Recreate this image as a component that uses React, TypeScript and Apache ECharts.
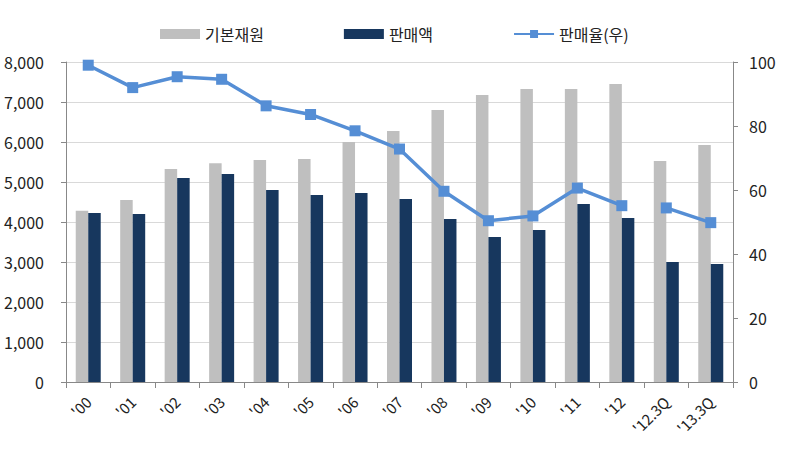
import React, { useEffect, useRef } from "react";
import * as echarts from "echarts";

const categories = ["'00", "'01", "'02", "'03", "'04", "'05", "'06", "'07", "'08", "'09", "'10", "'11", "'12", "'12.3Q", "'13.3Q"];
const baseFunds = [4280, 4550, 5325, 5470, 5550, 5575, 6000, 6275, 6800, 7175, 7325, 7325, 7450, 5525, 5925];
const sales = [4225, 4200, 5100, 5200, 4800, 4675, 4725, 4575, 4075, 3625, 3800, 4450, 4100, 3000, 2950];
const salesRateAnnual = [99, 92, 95.4, 94.6, 86.3, 83.6, 78.5, 72.8, 59.6, 50.4, 51.9, 60.6, 55.1];
const salesRateQuarter = [54.4, 49.8];
const leftTicks = { min: 0, max: 8000, interval: 1000 };
const rightTicks = { min: 0, max: 100, interval: 20 };

const FONT = "'Noto Sans CJK KR', 'Noto Sans', sans-serif";

export default function App() {
  const ref = useRef<HTMLDivElement>(null);
  useEffect(() => {
    if (!ref.current) return;
    const chart = echarts.init(ref.current, null, { renderer: "svg" });
    const n = categories.length;
    const lineA = categories.map((_, i) => (i < salesRateAnnual.length ? salesRateAnnual[i] : "-"));
    const lineB = categories.map((_, i) => {
      const j = i - (n - salesRateQuarter.length);
      return j >= 0 ? salesRateQuarter[j] : "-";
    });
    chart.setOption({
      animation: false,
      textStyle: { fontFamily: FONT },
      legend: {
        left: 155,
        top: 21,
        itemWidth: 40,
        itemHeight: 10,
        itemGap: 80,
        textStyle: { fontFamily: FONT, fontSize: 16, color: "#222" },
        data: [
          { name: "기본재원", icon: "rect" },
          { name: "판매액", icon: "rect" },
          { name: "판매율(우)" },
        ],
      },
      grid: { left: 66, right: 54, top: 62, bottom: 68, containLabel: false },
      xAxis: {
        type: "category",
        data: categories,
        axisLine: { lineStyle: { color: "#888" } },
        axisTick: { show: true, alignWithLabel: false, length: 6, lineStyle: { color: "#888" } },
        axisLabel: { rotate: 45, fontSize: 15, color: "#222", fontFamily: FONT, interval: 0, margin: 17 },
      },
      yAxis: [
        {
          type: "value",
          ...leftTicks,
          axisLine: { show: true, lineStyle: { color: "#888" } },
          axisTick: { show: true, length: 5, lineStyle: { color: "#888" } },
          splitLine: { lineStyle: { color: "#d9d9d9" } },
          axisLabel: {
            fontSize: 16,
            color: "#222",
            fontFamily: FONT,
            margin: 22,
            formatter: (v: number) => v.toLocaleString("en-US"),
          },
        },
        {
          type: "value",
          ...rightTicks,
          position: "right",
          axisLine: { show: true, lineStyle: { color: "#888" } },
          axisTick: { show: true, length: 5, lineStyle: { color: "#888" } },
          splitLine: { show: false },
          axisLabel: { fontSize: 16, color: "#222", fontFamily: FONT, margin: 16 },
        },
      ],
      series: [
        {
          name: "기본재원",
          type: "bar",
          data: baseFunds,
          barWidth: 12.5,
          barGap: "0%",
          itemStyle: { color: "#bfbfbf" },
        },
        {
          name: "판매액",
          type: "bar",
          data: sales,
          barWidth: 12.5,
          barGap: "0%",
          itemStyle: { color: "#17375e" },
        },
        {
          name: "판매율(우)",
          type: "line",
          yAxisIndex: 1,
          data: lineA,
          symbol: "rect",
          symbolSize: 11,
          connectNulls: false,
          lineStyle: { color: "#558ed5", width: 3.5 },
          itemStyle: { color: "#558ed5" },
        },
        {
          name: "판매율(우)",
          type: "line",
          yAxisIndex: 1,
          data: lineB,
          symbol: "rect",
          symbolSize: 11,
          connectNulls: false,
          lineStyle: { color: "#558ed5", width: 3.5 },
          itemStyle: { color: "#558ed5" },
        },
      ],
    });
    return () => chart.dispose();
  }, []);
  return <div ref={ref} style={{ width: 787, height: 450, position: "absolute", left: 0, top: 0 }} />;
}
